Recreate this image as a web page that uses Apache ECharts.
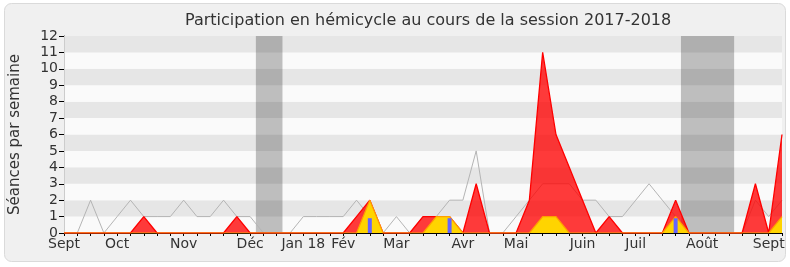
<!DOCTYPE html>
<html>
<head>
<meta charset="utf-8">
<script src="https://cdn.jsdelivr.net/npm/echarts@6/dist/echarts.min.js"></script>
<style>
html,body{margin:0;padding:0;background:#fff;}
#c{width:790px;height:267px;}
</style>
</head>
<body>
<div id="c"></div>
<script>
// Weeks from Sept 2017 (index 0) to Sept 2018 (index 54)
var weeks = [];
for (var w = 0; w <= 54; w++) weeks.push(w);

// Month tick labels (week index -> label)
var monthWeeks  = [0, 4, 9, 14, 18, 21, 25, 30, 34, 39, 43, 48, 53];
var monthLabels = ['Sept','Oct','Nov','Déc','Jan 18','Fév','Mar','Avr','Mai','Juin','Juil','Août','Sept'];

// Grey line: median participation
var mediane = [0,0,2,0,1,2,1,1,1,2,1,1,2,1,1,0,0,0,1,1,1,1,2,1,0,1,0,1,1,2,2,5,0,0,1,2,3,3,3,2,2,1,1,2,3,2,1,0,0,0,0,0,2,1,2];
// Red area: presence in hemicycle
var presences = [0,0,0,0,0,0,1,0,0,0,0,0,0,1,0,0,0,0,0,0,0,0,1,2,0,0,0,1,1,1,0,3,0,0,0,2,11,6,4,2,0,1,0,0,0,0,2,0,0,0,0,0,3,0,6];
// Yellow area: long interventions
var interventions = [0,0,0,0,0,0,0,0,0,0,0,0,0,0,0,0,0,0,0,0,0,0,0,2,0,0,0,0,1,1,0,0,0,0,0,0,1,1,0,0,0,0,0,0,0,0,1,0,0,0,0,0,0,0,1];
// Blue bars: questions
var questionWeeks  = [23, 29, 46];
var questionValues = [0.9, 0.9, 0.9];
// Parliamentary breaks (week index start/end)
var vacances = [[14.43, 16.43], [46.4, 50.4]];

function pairs(arr){ return weeks.map(function(w,i){ return [w, arr[i]]; }); }

var FONT = 'DejaVu Sans';
var chart = echarts.init(document.getElementById('c'), null, {renderer:'canvas'});
chart.setOption({
  animation: false,
  backgroundColor: '#ffffff',
  textStyle: {fontFamily: FONT},
  graphic: [{
    type: 'rect', z: -10, silent: true,
    shape: {x: 4.5, y: 3.5, width: 781, height: 258, r: 7},
    style: {fill: '#f0f0f0', stroke: '#dadada', lineWidth: 1}
  }],
  title: {
    text: 'Participation en hémicycle au cours de la session 2017-2018',
    left: 180, top: 8,
    textStyle: {fontFamily: FONT, fontSize: 16, fontWeight: 'normal', color: '#333'}
  },
  grid: {left: 62, right: 8, top: 36, bottom: 34, show: true, backgroundColor: '#fafafa', borderWidth: 0},
  xAxis: [{
    type: 'value', min: 0, max: 54, interval: 1,
    axisLine: {show: true, lineStyle: {color: '#000', width: 1}},
    axisTick: {show: true, length: 3, lineStyle: {color: '#000'}},
    splitLine: {show: false},
    axisLabel: {
      color: '#333', fontSize: 14, fontFamily: FONT, margin: 4, showMinLabel: true, showMaxLabel: true,
      formatter: function(v){ var k = monthWeeks.indexOf(Math.round(v)); return (k >= 0 && Math.abs(v - Math.round(v)) < 1e-6) ? monthLabels[k] : ''; }
    }
  }, {
    type: 'value', min: 0, max: 54, interval: 1, position: 'top',
    axisLine: {show: false},
    axisTick: {show: true, inside: true, length: 1, lineStyle: {color: '#000'}},
    axisLabel: {show: false}, splitLine: {show: false}
  }],
  yAxis: [{
    type: 'value', min: 0, max: 12, interval: 1,
    name: 'Séances par semaine', nameLocation: 'middle', nameGap: 41,
    nameTextStyle: {fontFamily: FONT, fontSize: 15, color: '#333'},
    axisLine: {show: true, lineStyle: {color: '#000', width: 1}},
    axisTick: {show: true, length: 5, lineStyle: {color: '#000'}},
    axisLabel: {color: '#333', fontSize: 14, fontFamily: FONT, margin: 6},
    splitLine: {show: false},
    splitArea: {show: true, areaStyle: {color: ['#fafafa', '#e6e6e6']}}
  }, {
    type: 'value', min: 0, max: 12, interval: 1, position: 'right',
    axisLine: {show: true, lineStyle: {color: '#cccccc', width: 1}},
    axisTick: {show: false}, axisLabel: {show: false}, splitLine: {show: false}
  }],
  series: [{
    type: 'line', name: 'médiane', data: pairs(mediane), symbol: 'none', z: 2,
    lineStyle: {color: '#b4b4b4', width: 1},
    markArea: {
      silent: true,
      itemStyle: {color: 'rgba(0,0,0,0.24)'},
      data: vacances.map(function(v){ return [{xAxis: v[0]}, {xAxis: v[1]}]; })
    }
  }, {
    type: 'line', name: 'présences', data: pairs(presences), symbol: 'none', z: 3,
    lineStyle: {color: '#ff0000', width: 1.3},
    areaStyle: {color: 'rgba(255,0,0,0.77)', opacity: 1, origin: 'start'}
  }, {
    type: 'line', name: 'interventions', data: pairs(interventions), symbol: 'none', z: 4,
    lineStyle: {color: '#ff9f00', width: 1.2},
    areaStyle: {color: '#ffd400', opacity: 1, origin: 'start'}
  }, {
    type: 'bar', name: 'questions', z: 5, barWidth: 4,
    data: questionWeeks.map(function(w,i){ return [w, questionValues[i]]; }),
    itemStyle: {color: '#6464ff'}
  }]
});
</script>
</body>
</html>
